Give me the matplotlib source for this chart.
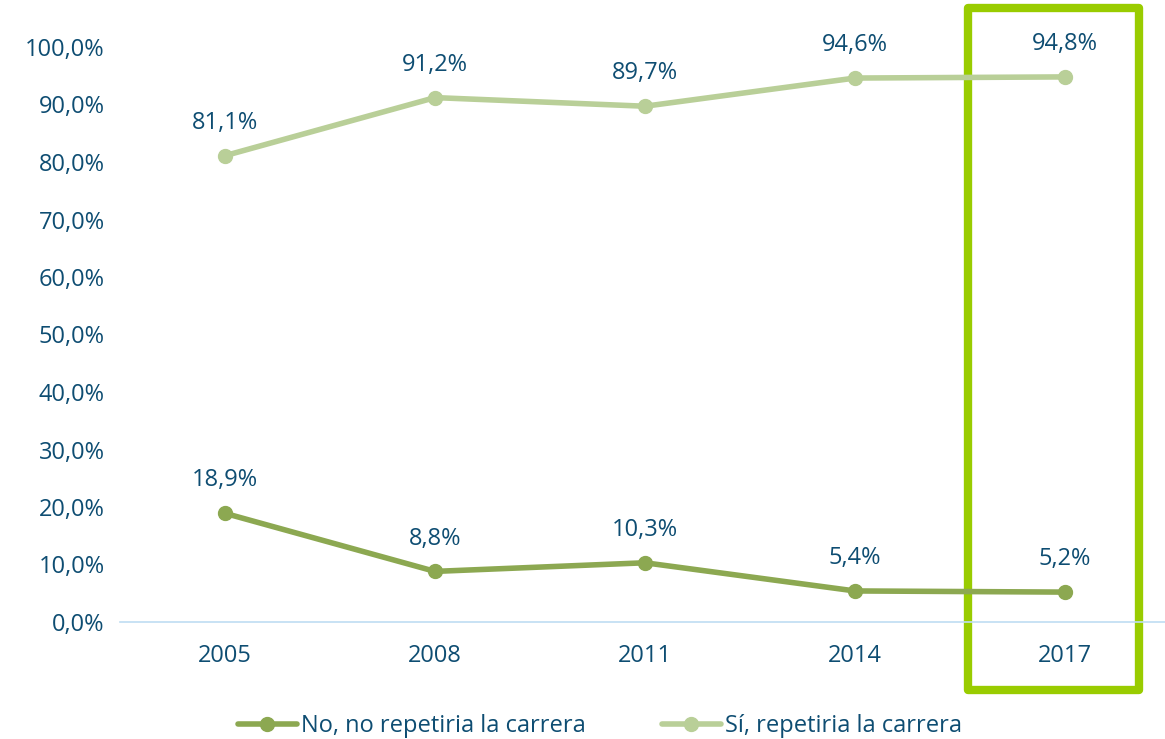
import matplotlib.pyplot as plt
from matplotlib.patches import Rectangle

years = ["2005", "2008", "2011", "2014", "2017"]
no_repetiria = [18.9, 8.8, 10.3, 5.4, 5.2]
si_repetiria = [81.1, 91.2, 89.7, 94.6, 94.8]
yticks = [0, 10, 20, 30, 40, 50, 60, 70, 80, 90, 100]

txt = "#0E4D72"
dark = "#8CA851"
light = "#B9CF98"

plt.rcParams['font.family'] = ['Open Sans', 'DejaVu Sans']

fig = plt.figure(figsize=(11.65, 7.39), dpi=100)
ax = fig.add_axes([120 / 1165, 1 - 622 / 739, 1050 / 1165, (622 - 47) / 739])

x = range(len(years))
ax.plot(x, no_repetiria, color=dark, lw=4, marker="o", ms=10, label="No, no repetiria la carrera",
        solid_capstyle="round")
ax.plot(x, si_repetiria, color=light, lw=4, marker="o", ms=10, label="Sí, repetiria la carrera",
        solid_capstyle="round")

for i in x:
    for v in (no_repetiria[i], si_repetiria[i]):
        ax.annotate(f"{v:.1f}%".replace(".", ","), (i, v), xytext=(0, 15),
                    textcoords="offset points", ha="center", va="bottom",
                    color=txt, fontsize=17)

ax.set_xlim(-0.5, 4.5)
ax.set_ylim(0, 100)
ax.set_xticks(list(x))
ax.set_xticklabels(years)
ax.set_yticks(yticks)
ax.set_yticklabels([f"{t:.1f}%".replace(".", ",") for t in yticks])
ax.tick_params(length=0, labelsize=17, colors=txt)
ax.tick_params(axis="x", pad=16)
ax.tick_params(axis="y", pad=11)
for s in ["top", "right", "left"]:
    ax.spines[s].set_visible(False)
ax.spines["bottom"].set_color("#BFDDF2")
ax.spines["bottom"].set_linewidth(1.2)

# highlight box around 2017
box = Rectangle((3.54, -11.8), 0.81, 118.6, fill=False, edgecolor="#99CC00", lw=6,
                joinstyle="round", clip_on=False)
ax.add_patch(box)

leg = fig.legend(loc="lower center", bbox_to_anchor=(0.515, -0.028), ncol=2, frameon=False,
                 fontsize=17, handlelength=2.5, columnspacing=3.2, handletextpad=0.2)
for t in leg.get_texts():
    t.set_color(txt)

fig.savefig("out.png", dpi=100)
